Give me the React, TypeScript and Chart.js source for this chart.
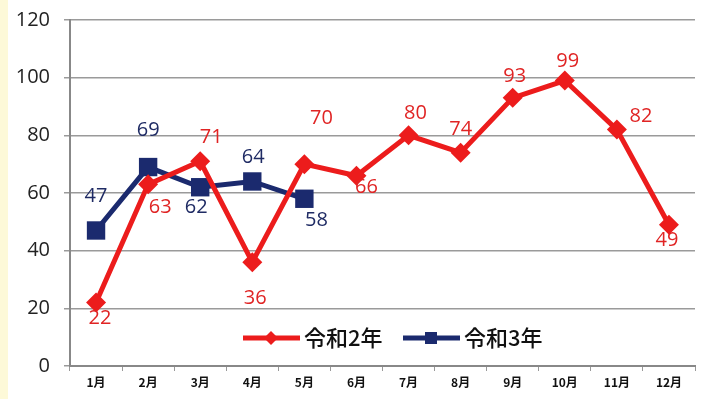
import React, { useEffect, useRef } from "react";
import { Chart, registerables } from "chart.js";

Chart.register(...registerables);

const months = ["1月", "2月", "3月", "4月", "5月", "6月", "7月", "8月", "9月", "10月", "11月", "12月"];
const reiwa2 = [22, 63, 71, 36, 70, 66, 80, 74, 93, 99, 82, 49];
const reiwa3 = [47, 69, 62, 64, 58, null, null, null, null, null, null, null];
const yTicks = [0, 20, 40, 60, 80, 100, 120];

const RED = "#ec1c1c";
const BLUE = "#1b2a6e";

// label offsets (styling) relative to the point
const redOffsets: [number, number][] = [[4, 16], [12, 23], [11, -24], [3, 36], [17, -46], [10, 12], [7, -22], [0, -23], [2, -22], [3, -19], [24, -13], [-2, 16]];
const blueOffsets: [number, number][] = [[0, -34], [0, -37], [-4, 20], [1, -24], [12, 22]];

const labelPlugin = {
  id: "pointLabels",
  afterDatasetsDraw(chart: any) {
    const ctx = chart.ctx;
    ctx.save();
    ctx.font = '20px "Open Sans", "Liberation Sans", sans-serif';
    ctx.textAlign = "center";
    ctx.textBaseline = "middle";
    chart.data.datasets.forEach((ds: any, di: number) => {
      const meta = chart.getDatasetMeta(di);
      const offs = di === 0 ? redOffsets : blueOffsets;
      ctx.fillStyle = di === 0 ? "#e02424" : "#1f2b64";
      meta.data.forEach((el: any, i: number) => {
        const v = ds.data[i];
        if (v == null) return;
        const o = offs[i] || [0, -20];
        ctx.fillText(String(v), el.x + o[0], el.y + o[1]);
      });
    });
    ctx.restore();
  },
};

const legendPlugin = {
  id: "innerLegend",
  afterDraw(chart: any) {
    const ctx = chart.ctx;
    const y = 338;
    const items = [
      { x: 243, color: RED, text: "令和2年", style: "diamond" },
      { x: 403, color: BLUE, text: "令和3年", style: "square" },
    ];
    ctx.save();
    items.forEach((it) => {
      ctx.strokeStyle = it.color;
      ctx.lineWidth = 5;
      ctx.beginPath();
      ctx.moveTo(it.x, y);
      ctx.lineTo(it.x + 57, y);
      ctx.stroke();
      ctx.fillStyle = it.color;
      const cx = it.x + 28;
      if (it.style === "diamond") {
        ctx.beginPath();
        ctx.moveTo(cx, y - 7);
        ctx.lineTo(cx + 7, y);
        ctx.lineTo(cx, y + 7);
        ctx.lineTo(cx - 7, y);
        ctx.closePath();
        ctx.fill();
      } else {
        ctx.fillRect(cx - 6, y - 6, 12, 12);
      }
      ctx.fillStyle = "#111";
      ctx.font = '500 22px "Noto Sans CJK JP", sans-serif';
      ctx.textAlign = "left";
      ctx.textBaseline = "middle";
      ctx.fillText(it.text, it.x + 61, y);
    });
    ctx.restore();
  },
};

export default function App() {
  const ref = useRef<HTMLCanvasElement>(null);
  useEffect(() => {
    if (!ref.current) return;
    const chart = new Chart(ref.current, {
      type: "line",
      data: {
        labels: months,
        datasets: [
          {
            label: "令和2年",
            data: reiwa2,
            borderColor: RED,
            backgroundColor: RED,
            borderWidth: 5,
            pointStyle: "rectRot",
            pointRadius: 10,
            pointBorderWidth: 0,
            tension: 0,
          },
          {
            label: "令和3年",
            data: reiwa3,
            borderColor: BLUE,
            backgroundColor: BLUE,
            borderWidth: 5,
            pointStyle: "rect",
            pointRadius: 13,
            pointBorderWidth: 0,
            tension: 0,
            spanGaps: false,
          },
        ],
      },
      options: {
        animation: false,
        responsive: false,
        maintainAspectRatio: false,
        layout: { padding: { top: 20, right: 11, left: 0, bottom: 0 } },
        plugins: { legend: { display: false }, tooltip: { enabled: false } },
        scales: {
          x: {
            offset: true,
            grid: { display: true, drawOnChartArea: false, drawTicks: true, tickLength: 5, color: "#999", offset: true },
            border: { display: true, color: "#888", width: 2 },
            ticks: { color: "#111", font: { size: 12, weight: "bold", family: '"Noto Sans CJK JP", sans-serif' }, padding: 4, maxRotation: 0, autoSkip: false },
            afterFit: (s: any) => { s.height = 33; s.paddingLeft = 0; s.paddingRight = 0; },
          },
          y: {
            min: 0,
            max: 120,
            afterBuildTicks: (s: any) => { s.ticks = yTicks.map((v) => ({ value: v })); },
            grid: { color: "#9a9a9a", lineWidth: 1.5, tickLength: 6, drawTicks: true },
            border: { display: true, color: "#888", width: 2 },
            ticks: { color: "#222", font: { size: 20, family: '"Open Sans", sans-serif' }, padding: 14 },
            afterFit: (s: any) => { s.width = 70; s.paddingTop = 0; s.paddingBottom = 0; },
          },
        },
      },
      plugins: [labelPlugin, legendPlugin],
    });
    return () => chart.destroy();
  }, []);
  return (
    <div style={{ position: "absolute", left: 0, top: 0, width: 708, height: 399, background: "#fff" }}>
      <div style={{ position: "absolute", left: 0, top: 0, width: 8, height: 399, background: "#fdf9d8" }} />
      <canvas ref={ref} width={708} height={399} style={{ position: "absolute", left: 0, top: 0 }} />
    </div>
  );
}
